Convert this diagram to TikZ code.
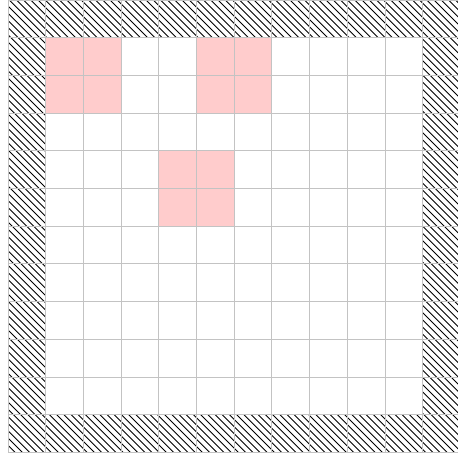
\documentclass[tikz,border=0pt]{standalone}
\definecolor{cellpink}{RGB}{255,204,204}
\definecolor{gridgray}{RGB}{195,195,195}
\tikzset{
  pinkcell/.style={fill=cellpink,draw=none},
  hatchline/.style={line width=0.9pt,black},
  gridline/.style={line width=0.9pt,gridgray}
}
\begin{document}
\begin{tikzpicture}[x=1pt,y=-1pt]
\useasboundingbox (0,0) rectangle (458,458);
\fill[white] (0,0) rectangle (458,458);
\pgfmathsetmacro{\c}{37.7}
\pgfmathsetmacro{\xo}{8}
\begin{scope}
  \clip (0,0) rectangle (458,458);
  % pink cells
  \foreach \col/\row in {1/1,2/1,1/2,2/2,5/1,6/1,5/2,6/2,4/4,5/4,4/5,5/5}{
    \fill[pinkcell] ({\xo+\col*\c},{\row*\c}) rectangle ++(\c,\c);
  }
  % hatched border ring
  \begin{scope}[even odd rule]
    \clip (\xo,0) rectangle ({\xo+12*\c},{12*\c})
          ({\xo+\c},\c) rectangle ({\xo+11*\c},{11*\c});
    \foreach \i in {-66,...,66}{
      \draw[hatchline] ({\i*7.2+2},0) -- ++(470,470);
    }
  \end{scope}
  % grid
  \foreach \k in {0,...,12}{
    \draw[gridline] ({\xo+\k*\c},0) -- ({\xo+\k*\c},{12*\c});
    \draw[gridline] (\xo,{\k*\c}) -- ({\xo+12*\c},{\k*\c});
  }
\end{scope}
\end{tikzpicture}
\end{document}
